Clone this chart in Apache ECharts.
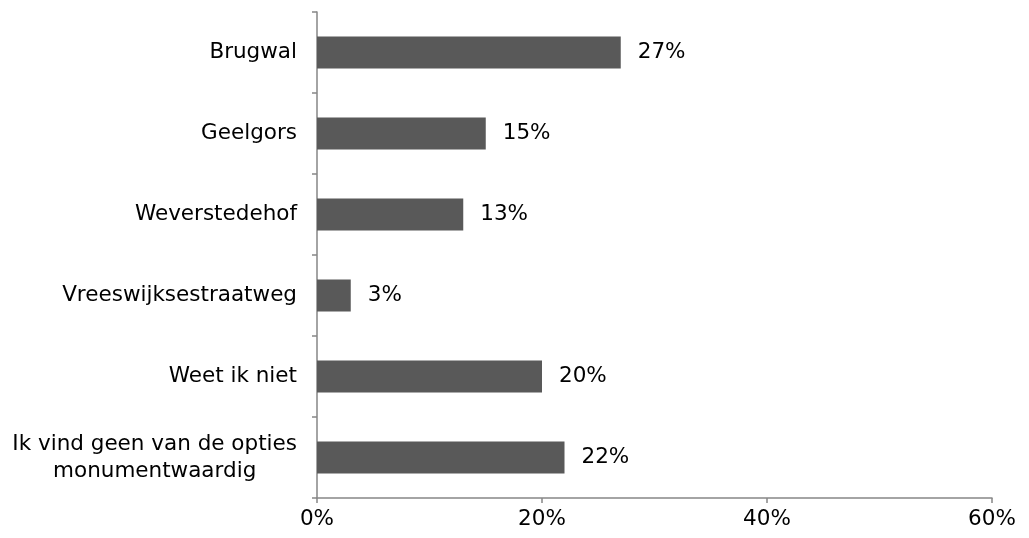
<!DOCTYPE html>
<html>
<head>
<meta charset="utf-8">
<script src="https://cdn.jsdelivr.net/npm/echarts@6/dist/echarts.min.js"></script>
<style>
html,body{margin:0;padding:0;background:#fff;}
#c{width:1029px;height:538px;}
</style>
</head>
<body>
<div id="c"></div>
<script>
const categories = ["Brugwal", "Geelgors", "Weverstedehof", "Vreeswijksestraatweg", "Weet ik niet", "Ik vind geen van de opties\nmonumentwaardig"];
const values = [27, 15, 13, 3, 20, 22];
const xTicks = [0, 20, 40, 60];

const chart = echarts.init(document.getElementById('c'));
const FONT = 'DejaVu Sans';
const FS = 21.5;
chart.setOption({
  animation: false,
  backgroundColor: '#fff',
  grid: { left: 317, right: 37, top: 12, bottom: 40, containLabel: false },
  xAxis: {
    type: 'value',
    min: xTicks[0],
    max: xTicks[xTicks.length - 1],
    interval: 20,
    splitLine: { show: false },
    axisLine: { show: true, lineStyle: { color: '#868686', width: 1.5 } },
    axisTick: { show: true, length: 5, lineStyle: { color: '#868686', width: 1.5 } },
    axisLabel: { formatter: v => v + '%', color: '#000', fontFamily: FONT, fontSize: FS, margin: 10 }
  },
  yAxis: {
    type: 'category',
    inverse: true,
    data: categories,
    axisLine: { show: true, lineStyle: { color: '#868686', width: 1.5 } },
    axisTick: { show: true, length: 5, lineStyle: { color: '#868686', width: 1.5 } },
    axisLabel: {
      margin: 20,
      color: '#000',
      fontFamily: FONT,
      fontSize: FS,
      lineHeight: 27,
      formatter: v => v.split('\n').map(s => '{c|' + s + '}').join('\n'),
      rich: { c: { align: 'center', fontFamily: FONT, fontSize: FS, lineHeight: 27, color: '#000' } }
    }
  },
  series: [{
    type: 'bar',
    data: values,
    barWidth: 32,
    itemStyle: { color: '#595959' },
    label: {
      show: true,
      position: 'right',
      distance: 17,
      formatter: p => p.value + '%',
      color: '#000',
      fontFamily: FONT,
      fontSize: FS
    }
  }]
});
</script>
</body>
</html>
